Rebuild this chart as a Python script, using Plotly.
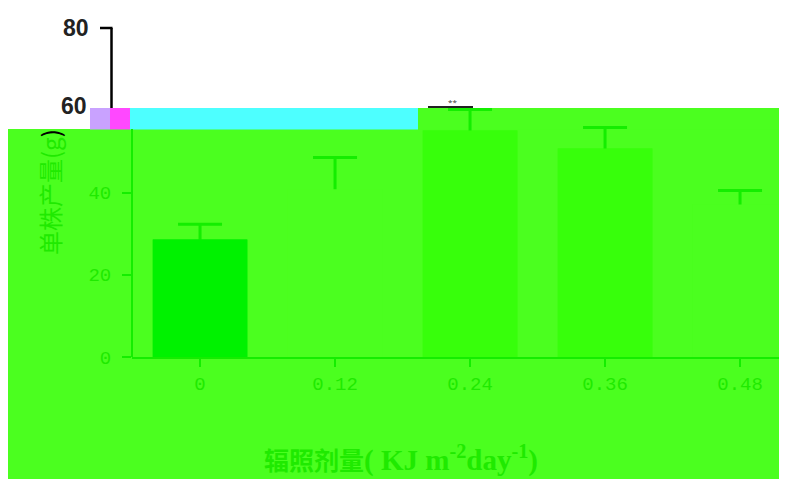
import plotly.graph_objects as go

# ---- data ----
categories = ["0", "0.12", "0.24", "0.36", "0.48"]
values = [28.6, 40.8, 55.1, 50.7, 37.1]
errors = [3.7, 7.7, 5.1, 5.1, 3.4]

# ---- style ----
W, H = 787, 479
OFF = 8  # page body margin
L, R, T, B = 124, 0, 20, 130
BG_GREEN = "#4BFF1F"
AX_GREEN = "#14EE00"
TXT_GREEN = "#1FEA00"
bar_colors = ["#00F200", BG_GREEN, "#37FF0B", "#37FF0B", BG_GREEN]

pw, ph = W - L - R, H - T - B


def px(x):
    # x in viewport pixels -> paper
    return (x - OFF - L) / pw


def py(y):
    # y in viewport pixels -> paper
    return (H - B - (y - OFF)) / ph


fig = go.Figure()
# bars with symmetric error bars
fig.add_trace(go.Bar(
    x=categories, y=values, width=0.7,
    marker=dict(color=bar_colors, line=dict(width=0)),
    error_y=dict(type="data", array=errors, color=AX_GREEN, thickness=3, width=22),
    showlegend=False, hoverinfo="skip",
))
# same bars again on top, hiding the lower half of the error bars
fig.add_trace(go.Bar(
    x=categories, y=values, width=0.7,
    marker=dict(color=bar_colors, line=dict(width=0)),
    showlegend=False,
))

shapes = [
    # green overlay regions
    dict(type="rect", xref="paper", yref="paper", x0=px(8), x1=px(W + OFF), y0=py(H + OFF), y1=py(129),
         fillcolor=BG_GREEN, line=dict(width=0), layer="below"),
    dict(type="rect", xref="paper", yref="paper", x0=px(418), x1=px(W + OFF), y0=py(129.5), y1=py(108),
         fillcolor=BG_GREEN, line=dict(width=0), layer="below"),
    dict(type="rect", xref="paper", yref="paper", x0=px(130), x1=px(418), y0=py(129.5), y1=py(108),
         fillcolor="#4DFFFF", line=dict(width=0), layer="below"),
    dict(type="rect", xref="paper", yref="paper", x0=px(90), x1=px(110), y0=py(129.5), y1=py(108),
         fillcolor="#C9A2FF", line=dict(width=0), layer="below"),
    dict(type="rect", xref="paper", yref="paper", x0=px(110), x1=px(130), y0=py(129.5), y1=py(108),
         fillcolor="#FF48FF", line=dict(width=0), layer="below"),
    # green y-axis line (lower part)
    dict(type="line", xref="paper", yref="paper", x0=0, x1=0, y0=0, y1=py(129),
         line=dict(color=AX_GREEN, width=2)),
    # black y-axis line (upper part) and 80 tick
    dict(type="line", xref="paper", yref="paper", x0=px(111.5), x1=px(111.5), y0=py(108), y1=1,
         line=dict(color="black", width=2.5)),
    dict(type="line", xref="paper", yref="paper", x0=px(100), x1=px(112.5), y0=1, y1=1,
         line=dict(color="black", width=2.5)),
    # significance line
    dict(type="line", xref="paper", yref="paper", x0=px(428), x1=px(473), y0=py(107), y1=py(107),
         line=dict(color="#222222", width=2)),
]

x_title = ("<b>辐照剂量<span style='font-size:29px'>( KJ m<sup>-2</sup>"
           "day<sup>-1</sup>)</span></b>")

annotations = [
    dict(text="<b>80</b>", xref="paper", yref="paper", x=px(91), y=1, xanchor="right",
         yanchor="middle", showarrow=False,
         font=dict(family="Liberation Sans Narrow, Liberation Sans, Arial", size=23, color="#222222")),
    dict(text="<b>60</b>", xref="paper", yref="paper", x=px(89), y=py(106), xanchor="right",
         yanchor="middle", showarrow=False,
         font=dict(family="Liberation Sans Narrow, Liberation Sans, Arial", size=23, color="#222222")),
    dict(text="**", xref="paper", yref="paper", x=px(452), y=py(101), xanchor="center",
         yanchor="middle", showarrow=False, font=dict(size=8, color="#333333")),
    dict(text="单株产量(g<span style='color:black'>)</span>", xref="paper", yref="paper",
         x=px(49), y=py(192), xanchor="center", yanchor="middle", textangle=-90, showarrow=False,
         font=dict(family="Noto Sans CJK SC", size=24, color=TXT_GREEN)),
    dict(text=x_title, xref="paper", yref="paper",
         x=px(401), y=py(458), xanchor="center", yanchor="middle", showarrow=False,
         font=dict(family="Liberation Serif, Noto Sans CJK SC", size=25, color=TXT_GREEN)),
]

fig.update_layout(
    width=W, height=H,
    margin=dict(l=L, r=R, t=T, b=B, pad=0),
    paper_bgcolor="white",
    plot_bgcolor="rgba(0,0,0,0)",
    shapes=shapes,
    annotations=annotations,
    barmode="overlay",
    xaxis=dict(
        type="category", range=[-0.504, 4.407],
        showline=True, linecolor=AX_GREEN, linewidth=2,
        ticks="outside", ticklen=8, tickwidth=2, tickcolor=AX_GREEN,
        tickfont=dict(family="Liberation Mono", size=19, color=TXT_GREEN),
        showgrid=False, zeroline=False, fixedrange=True,
    ),
    yaxis=dict(
        range=[0, 80], showline=False,
        tickvals=[0, 20, 40], ticktext=["0", "20", "40"],
        ticks="outside", ticklen=9, tickwidth=2, tickcolor=AX_GREEN,
        ticklabelstandoff=7,
        tickfont=dict(family="Liberation Mono", size=19, color=TXT_GREEN),
        showgrid=False, zeroline=False, fixedrange=True,
    ),
)

fig.write_html("out.html")
